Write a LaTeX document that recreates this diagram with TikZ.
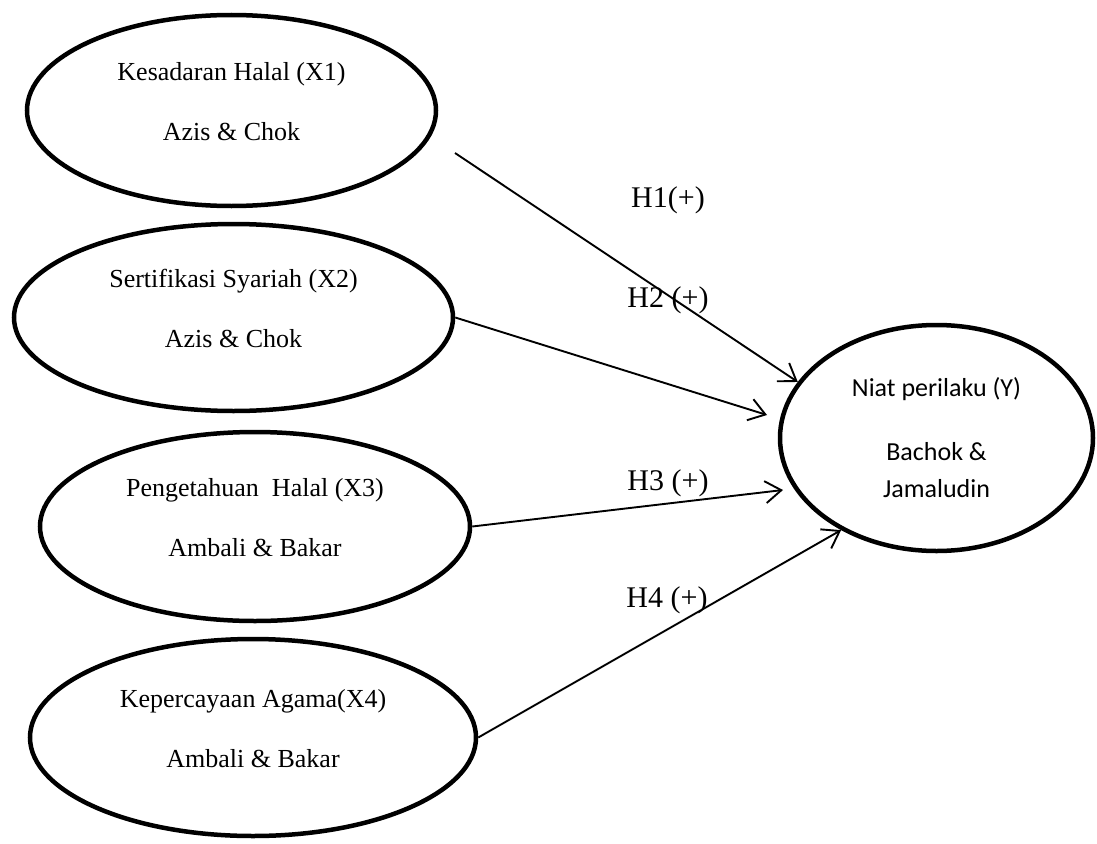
\documentclass[tikz,border=0pt]{standalone}
\usepackage{fontspec}
\setmainfont{Liberation Serif}
\newfontfamily\calibri{Carlito}
\usetikzlibrary{shapes.geometric,arrows.meta}
\newcommand{\lowpad}{\rule[-18pt]{0pt}{18pt}}

\begin{document}
\begin{tikzpicture}[x=1pt,y=-1pt,
  latent/.style={draw=black, line width=4.5pt, ellipse, inner sep=0pt, align=center,
    font=\fontsize{26}{30}\selectfont},
  link/.style={draw=black, line width=1.9pt,
    -{Straight Barb[length=16pt,width=22pt,line width=1.9pt]}},
  hyp/.style={inner sep=0pt, font=\fontsize{30}{36}\selectfont}]
\useasboundingbox (0,0) rectangle (1097,843);
% constructs
\node [latent, minimum width=409, minimum height=191] (x1) at (231.5,110.5) {Kesadaran Halal (X1)\\[30pt]Azis \& Chok\lowpad};
\node [latent, minimum width=439, minimum height=187] (x2) at (233.5,317.5) {Sertifikasi Syariah (X2)\\[30pt]Azis \& Chok\lowpad};
\node [latent, minimum width=430, minimum height=189] (x3) at (255,526.5) {Pengetahuan~ Halal (X3)\\[30pt]Ambali \& Bakar\lowpad};
\node [latent, minimum width=446, minimum height=197] (x4) at (253,737.5) {Kepercayaan Agama(X4)\\[30pt]Ambali \& Bakar\lowpad};
\node [latent, minimum width=313, minimum height=226, font=\calibri\fontsize{26}{37}\selectfont] (y) at (936.5,438) {Niat perilaku (Y)\\[27pt]Bachok \&\\Jamaludin};
% free ends
\coordinate (h1s) at (455,153);
\coordinate (h2e) at (767,415);
\coordinate (h3e) at (783,490);
% hypotheses
\draw [link] (h1s) -- (y.158);
\draw [link] (x2.east) -- (h2e);
\draw [link] (x3.east) -- (h3e);
\draw [link] (x4.east) -- (y.224);
\node [hyp] (l1) at (668,200) {H1(+)};
\node [hyp] (l2) at (668,300) {H2 (+)};
\node [hyp] (l3) at (668,483) {H3 (+)};
\node [hyp] (l4) at (667,600) {H4 (+)};
\end{tikzpicture}
\end{document}
